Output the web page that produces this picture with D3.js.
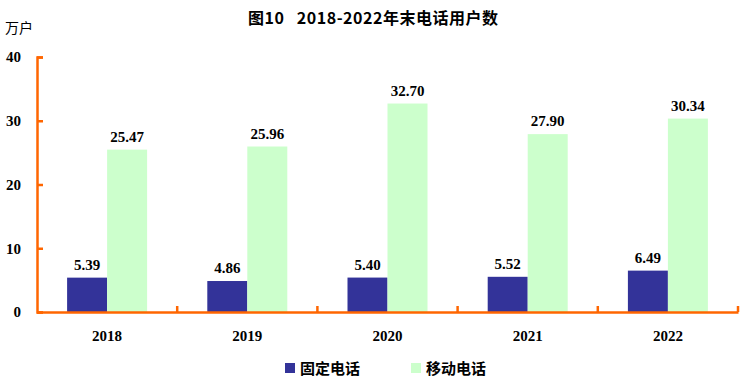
<!DOCTYPE html>
<html><head><meta charset="utf-8">
<script src="https://cdn.jsdelivr.net/npm/d3@7"></script>
<style>body{margin:0;background:#fff}svg{display:block}</style>
</head><body>
<script>
const years = ["2018","2019","2020","2021","2022"];
const fixedPhone = [5.39,4.86,5.40,5.52,6.49];
const mobilePhone = [25.47,25.96,32.70,27.90,30.34];
const seriesNames = ["固定电话","移动电话"];
const seriesColors = ["#333399","#CCFFCC"];
const yTicks = [0,10,20,30,40];

const W=748,H=383;
const svg=d3.select("body").append("svg").attr("width",W).attr("height",H);
const pLeft=37,pRight=738,pTop=57,pBottom=312;
const x=d3.scaleBand().domain(years).range([pLeft,pRight]);
const y=d3.scaleLinear().domain([0,40]).range([pBottom,pTop]);
const barW=40;
const axisColor="#FF6600";
const numFont="'Liberation Serif','Times New Roman',serif";
const cjkFont="'Noto Sans CJK SC',sans-serif";

svg.append("text").attr("x",248).attr("y",24)
  .attr("font-family",cjkFont).attr("font-weight","bold").attr("font-size",16)
  .attr("textLength",250).attr("lengthAdjust","spacing")
  .style("white-space","pre")
  .text("图10   2018-2022年末电话用户数");
svg.append("text").attr("x",5).attr("y",33)
  .attr("font-family",cjkFont).attr("font-weight","normal").attr("font-size",14)
  .text("万户");

const series=[fixedPhone,mobilePhone];
series.forEach((vals,si)=>{
  const g=svg.append("g");
  years.forEach((yr,i)=>{
    const cx=x(yr)+x.bandwidth()/2;
    const bx=cx-barW+si*barW;
    g.append("rect").attr("x",bx).attr("y",y(vals[i])).attr("width",barW)
      .attr("height",y(0)-y(vals[i])).attr("fill",seriesColors[si]);
    g.append("text").attr("x",bx+barW/2).attr("y",y(vals[i])-8)
      .attr("text-anchor","middle").attr("font-family",numFont)
      .attr("font-weight","bold").attr("font-size",15).text(vals[i].toFixed(2));
  });
});

// y axis
const ya=svg.append("g").attr("transform",`translate(${pLeft},0)`)
  .call(d3.axisLeft(y).tickValues(yTicks).tickSize(-6).tickPadding(16).tickFormat(d3.format("d")));
ya.select(".domain").attr("stroke",axisColor).attr("stroke-width",2.5);
ya.selectAll(".tick line").attr("stroke",axisColor).attr("stroke-width",2.5);
ya.selectAll(".tick text").attr("font-family",numFont).attr("font-weight","bold")
  .attr("font-size",15).attr("fill","#000");

// x axis
const xa=svg.append("g").attr("transform",`translate(0,${pBottom})`)
  .call(d3.axisBottom(x).tickSize(0).tickPadding(18));
xa.select(".domain").attr("stroke",axisColor).attr("stroke-width",2.5);
xa.selectAll(".tick text").attr("font-family",numFont).attr("font-weight","bold")
  .attr("font-size",15).attr("fill","#000");
const bounds=years.map(d=>x(d)+x.bandwidth());
xa.selectAll(".sep").data(bounds).enter().append("line")
  .attr("x1",d=>d).attr("x2",d=>d).attr("y1",0).attr("y2",-6)
  .attr("stroke",axisColor).attr("stroke-width",2.5);

// legend
const legX=[285,411];
seriesNames.forEach((n,i)=>{
  svg.append("rect").attr("x",legX[i]).attr("y",363).attr("width",10).attr("height",10)
    .attr("fill",seriesColors[i]);
  svg.append("text").attr("x",legX[i]+15).attr("y",373.5)
    .attr("font-family",cjkFont).attr("font-weight","bold").attr("font-size",15).text(n);
});
</script>
</body></html>
